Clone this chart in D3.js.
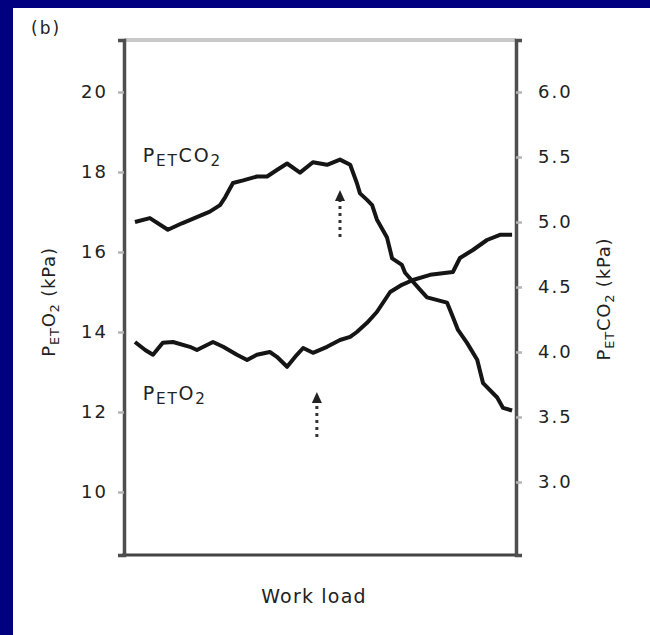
<!DOCTYPE html>
<html>
<head>
<meta charset="utf-8">
<script src="https://cdn.jsdelivr.net/npm/d3@7"></script>
<style>
  html, body { margin: 0; padding: 0; background: #fff; }
  svg text { font-family: "DejaVu Sans", "Liberation Sans", sans-serif; fill: #222; }
</style>
</head>
<body>
<div id="chart"></div>
<script>
// work load (as % of the x axis span) and the two traces
const workLoad = [2.8, 6.6, 11.2, 14.8, 21.9, 24.5, 25.8, 27.8, 30.4, 33.9, 36.5, 39.0, 41.6, 44.9, 48.2, 51.8, 55.1, 57.7, 59.4, 60.2, 62.0, 63.3, 64.5, 67.1, 68.4, 70.9, 71.7, 75.5, 77.3, 82.4, 83.9, 85.2, 87.5, 90.1, 91.6, 95.2, 96.7, 99.0];
const petCO2 = [5.00, 5.03, 4.94, 4.99, 5.08, 5.13, 5.19, 5.30, 5.32, 5.35, 5.35, 5.40, 5.45, 5.38, 5.46, 5.44, 5.48, 5.44, 5.30, 5.22, 5.17, 5.13, 5.02, 4.88, 4.72, 4.67, 4.61, 4.48, 4.42, 4.38, 4.27, 4.17, 4.07, 3.94, 3.76, 3.65, 3.57, 3.55];

const workLoadO2 = [2.8, 5.4, 7.4, 9.9, 12.5, 16.8, 18.6, 22.7, 25.3, 28.8, 31.4, 33.9, 37.2, 39.0, 41.6, 44.1, 45.7, 48.2, 51.8, 55.1, 57.7, 59.4, 62.0, 64.5, 67.9, 70.9, 73.7, 78.1, 83.9, 85.7, 89.0, 92.6, 95.9, 99.0];
const petO2 = [13.75, 13.55, 13.43, 13.73, 13.75, 13.63, 13.55, 13.75, 13.63, 13.43, 13.30, 13.43, 13.50, 13.38, 13.13, 13.43, 13.60, 13.48, 13.63, 13.80, 13.88, 14.00, 14.23, 14.50, 15.00, 15.18, 15.30, 15.43, 15.50, 15.85, 16.05, 16.30, 16.43, 16.43];

const leftTicks = [10, 12, 14, 16, 18, 20];
const rightTicks = [3.0, 3.5, 4.0, 4.5, 5.0, 5.5, 6.0];

// threshold arrows: [work load, foot, tip] in left-axis units
const arrows = [[55.1, 16.375, 17.55], [49.2, 11.375, 12.5]];

const W = 650, H = 635;
const svg = d3.select("#chart").append("svg")
    .attr("width", W)
    .attr("height", H);

// navy frame (left and top only)
svg.append("rect").attr("width", W).attr("height", H).attr("fill", "#000080");
svg.append("rect").attr("x", 13).attr("y", 8).attr("width", W - 13).attr("height", H - 8).attr("fill", "#fff");

const x = d3.scaleLinear().domain([0, 100]).range([124, 516]);
const yL = d3.scaleLinear().domain([8.425, 21.3]).range([555, 40]);
const yR = d3.scaleLinear().domain([2.4385, 6.4]).range([555, 40]);

// top frame line (light)
svg.append("line")
    .attr("x1", 124).attr("x2", 516)
    .attr("y1", 40).attr("y2", 40)
    .attr("stroke", "#c8c8c8").attr("stroke-width", 4);

// bottom axis, no ticks
svg.append("line")
    .attr("x1", 122).attr("x2", 518)
    .attr("y1", 555).attr("y2", 555)
    .attr("stroke", "#444").attr("stroke-width", 3);

const axL = svg.append("g")
    .attr("transform", "translate(124,0)")
    .call(d3.axisLeft(yL).tickValues(leftTicks).tickSizeOuter(0).tickSize(6).tickPadding(12).tickFormat(d3.format("d")));
const axR = svg.append("g")
    .attr("transform", "translate(516,0)")
    .call(d3.axisRight(yR).tickValues(rightTicks).tickSizeOuter(0).tickSize(6).tickPadding(16).tickFormat(d3.format(".1f")));

[axL, axR].forEach(ax => {
    ax.select(".domain").attr("stroke", "#4e4e4e").attr("stroke-width", 3.5);
    ax.selectAll(".tick line").attr("stroke", "#b4b4b4").attr("stroke-width", 2.5);
    ax.selectAll(".tick text")
        .attr("font-size", 18)
        .attr("letter-spacing", 2)
        .attr("fill", "#222");
});
axL.selectAll(".tick text").attr("dx", 2);

// traces
const lineCO2 = d3.line().x((d, i) => x(workLoad[i])).y(d => yR(d));
const lineO2 = d3.line().x((d, i) => x(workLoadO2[i])).y(d => yL(d));

svg.append("path").datum(petCO2)
    .attr("d", lineCO2)
    .attr("fill", "none").attr("stroke", "#151515").attr("stroke-width", 4)
    .attr("stroke-linejoin", "round");
svg.append("path").datum(petO2)
    .attr("d", lineO2)
    .attr("fill", "none").attr("stroke", "#151515").attr("stroke-width", 4)
    .attr("stroke-linejoin", "round");

// dotted arrows
arrows.forEach(a => {
    const ax = x(a[0]), y0 = yL(a[1]), y1 = yL(a[2]);
    svg.append("line")
        .attr("x1", ax).attr("x2", ax)
        .attr("y1", y0).attr("y2", y1 + 10)
        .attr("stroke", "#333").attr("stroke-width", 3)
        .attr("stroke-dasharray", "3,4");
    svg.append("path")
        .attr("d", `M${ax},${y1} L${ax - 5},${y1 + 11} L${ax + 5},${y1 + 11} Z`)
        .attr("fill", "#222");
});

// labels with subscripts
function subLabel(g, parts, size, spacing, subScale = 0.72) {
    const t = g.append("text").attr("font-size", size).attr("letter-spacing", spacing);
    parts.forEach(p => {
        t.append("tspan")
            .attr("font-size", p[1] ? size * subScale : size)
            .attr("baseline-shift", p[1] ? "-28%" : "0%")
            .text(p[0]);
    });
    return t;
}

subLabel(svg, [["P", 0], ["ET", 1], ["CO", 0], ["2", 1]], 19, 1.8, 0.8)
    .attr("x", x(4.8)).attr("y", yL(18.25));
subLabel(svg, [["P", 0], ["ET", 1], ["O", 0], ["2", 1]], 19, 1.8, 0.8)
    .attr("x", x(4.8)).attr("y", yL(12.3));

// axis titles
subLabel(svg, [["P", 0], ["ET", 1], ["O", 0], ["2", 1], [" (kPa)", 0]], 18, 0.8)
    .attr("text-anchor", "middle")
    .attr("transform", "translate(55,302) rotate(-90)");
subLabel(svg, [["P", 0], ["ET", 1], ["CO", 0], ["2", 1], [" (kPa)", 0]], 18, 0.8)
    .attr("text-anchor", "middle")
    .attr("transform", "translate(610,299) rotate(-90)");

svg.append("text")
    .attr("x", 314).attr("y", 603)
    .attr("text-anchor", "middle")
    .attr("font-size", 19)
    .attr("letter-spacing", 1.2)
    .text("Work load");

svg.append("text")
    .attr("x", 31).attr("y", 34)
    .attr("font-size", 17)
    .attr("letter-spacing", 2)
    .text("(b)");
</script>
</body>
</html>
